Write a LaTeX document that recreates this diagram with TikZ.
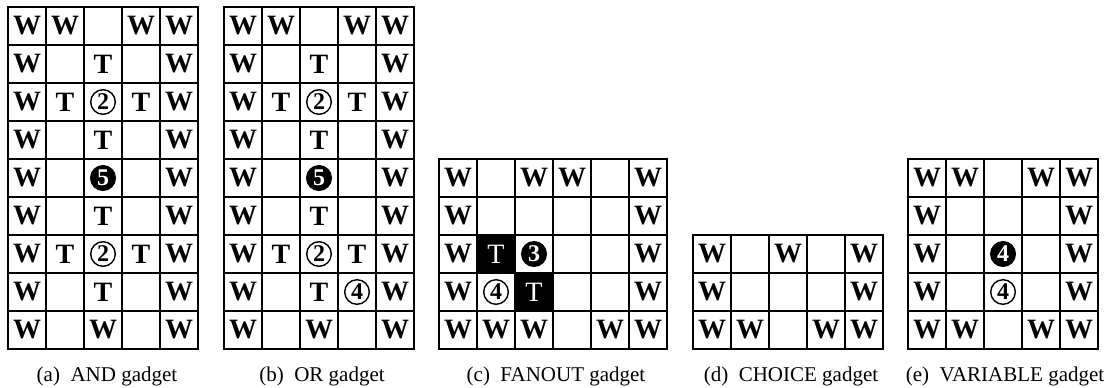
\documentclass[tikz,border=0pt]{standalone}
\usepackage{fontspec}
\setmainfont{Liberation Serif}
\newcommand{\gadgetgrid}[2]{% columns, rows
  \foreach \i in {0,...,#1} \draw[gridline] (\i,0) -- (\i,#2);
  \foreach \j in {0,...,#2} \draw[gridline] (0,\j) -- (#1,\j);
  \draw[frame] (0,0) rectangle (#1,#2);}

\begin{document}
\begin{tikzpicture}[x=0.5pt,y=-0.5pt,
  gridline/.style={line width=0.85pt},
  frame/.style={line width=1.1pt},
  wall/.style={inner sep=0pt,font=\fontsize{14}{14}\selectfont\bfseries},
  tpiece/.style={wall},
  dark/.style={fill=black,text=white,minimum size=19pt,inner sep=0pt,
    font=\fontsize{14}{14}\selectfont},
  wnum/.style={circle,draw,line width=0.7pt,inner sep=0pt,minimum size=12.3pt,
    font=\fontsize{12}{12}\selectfont\bfseries},
  bnum/.style={wnum,fill=black,text=white},
  captext/.style={anchor=base,font=\fontsize{10.5}{12}\selectfont},
  cellunits/.style={x=19pt,y=-19pt}]
  \useasboundingbox (0,0) rectangle (1112,387);
  % AND gadget
  \begin{scope}[shift={(8,7)},cellunits]
    \foreach \c in {1,2,4,5} \node[wall] (a-\c-1) at ({\c-0.5},0.5) {W};
    \foreach \r in {2,...,9} {
      \node[wall] (a-1-\r) at (0.5,{\r-0.5}) {W};
      \node[wall] (a-5-\r) at (4.5,{\r-0.5}) {W};}
    \node[wall] (a-3-9) at (2.5,8.5) {W};
    \foreach \c/\r in {3/2,2/3,4/3,3/4,3/6,2/7,4/7,3/8}
      \node[tpiece] (a-\c-\r) at ({\c-0.5},{\r-0.5}) {T};
    \node[wnum] (a-3-3) at (2.5,2.5) {2};
    \node[bnum] (a-3-5) at (2.5,4.5) {5};
    \node[wnum] (a-3-7) at (2.5,6.5) {2};
    \gadgetgrid{5}{9}
  \end{scope}
  \node[captext] (capa) at (107,381) {(a)~~AND gadget};
  % OR gadget
  \begin{scope}[shift={(224,7)},cellunits]
    \foreach \c in {1,2,4,5} \node[wall] (b-\c-1) at ({\c-0.5},0.5) {W};
    \foreach \r in {2,...,9} {
      \node[wall] (b-1-\r) at (0.5,{\r-0.5}) {W};
      \node[wall] (b-5-\r) at (4.5,{\r-0.5}) {W};}
    \node[wall] (b-3-9) at (2.5,8.5) {W};
    \foreach \c/\r in {3/2,2/3,4/3,3/4,3/6,2/7,4/7,3/8}
      \node[tpiece] (b-\c-\r) at ({\c-0.5},{\r-0.5}) {T};
    \node[wnum] (b-3-3) at (2.5,2.5) {2};
    \node[bnum] (b-3-5) at (2.5,4.5) {5};
    \node[wnum] (b-3-7) at (2.5,6.5) {2};
    \node[wnum] (b-4-8) at (3.5,7.5) {4};
    \gadgetgrid{5}{9}
  \end{scope}
  \node[captext] (capb) at (322,381) {(b)~~OR gadget};
  % FANOUT gadget
  \begin{scope}[shift={(439,159)},cellunits]
    \foreach \c/\r in {1/1,3/1,4/1,6/1,1/2,6/2,1/3,6/3,1/4,6/4,1/5,2/5,3/5,5/5,6/5}
      \node[wall] (c-\c-\r) at ({\c-0.5},{\r-0.5}) {W};
    \node[dark] (c-2-3) at (1.5,2.5) {T};
    \node[dark] (c-3-4) at (2.5,3.5) {T};
    \node[bnum] (c-3-3) at (2.5,2.5) {3};
    \node[wnum] (c-2-4) at (1.5,3.5) {4};
    \gadgetgrid{6}{5}
  \end{scope}
  \node[captext] (capc) at (556,381) {(c)~~FANOUT gadget};
  % CHOICE gadget
  \begin{scope}[shift={(693,235)},cellunits]
    \foreach \c/\r in {1/1,3/1,5/1,1/2,5/2,1/3,2/3,4/3,5/3}
      \node[wall] (d-\c-\r) at ({\c-0.5},{\r-0.5}) {W};
    \gadgetgrid{5}{3}
  \end{scope}
  \node[captext] (capd) at (791,381) {(d)~~CHOICE gadget};
  % VARIABLE gadget
  \begin{scope}[shift={(908,159)},cellunits]
    \foreach \c/\r in {1/1,2/1,4/1,5/1,1/2,5/2,1/3,5/3,1/4,5/4,1/5,2/5,4/5,5/5}
      \node[wall] (e-\c-\r) at ({\c-0.5},{\r-0.5}) {W};
    \node[bnum] (e-3-3) at (2.5,2.5) {4};
    \node[wnum] (e-3-4) at (2.5,3.5) {4};
    \gadgetgrid{5}{5}
  \end{scope}
  \node[captext] (cape) at (1005,381) {(e)~~VARIABLE gadget};
\end{tikzpicture}
\end{document}
